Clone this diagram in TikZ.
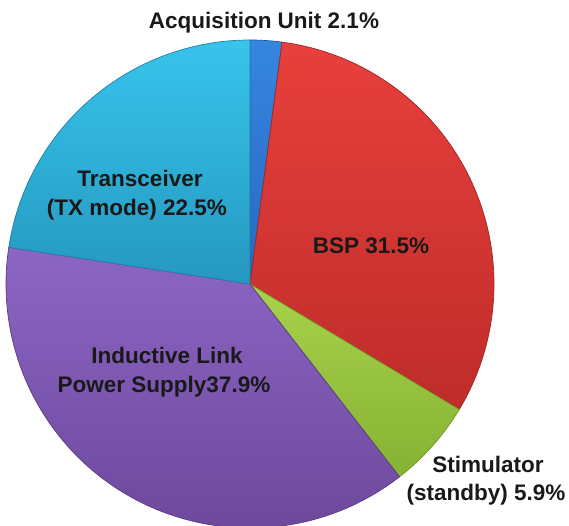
\documentclass[tikz,border=0pt]{standalone}
\usepackage{fontspec}
\setmainfont{Liberation Sans}
\begin{document}
\begin{tikzpicture}[x=1pt,y=1pt,
  lbl/.style={anchor=base,inner sep=0pt,font=\bfseries\fontsize{22.5}{29}\selectfont,text=black!90},
  slice/.style={line width=0.7pt}]
\useasboundingbox (0,0) rectangle (569,525);
\definecolor{cyanT}{HTML}{38C4EC}\definecolor{cyanB}{HTML}{2598C0}
\definecolor{redT}{HTML}{E8403C}\definecolor{redB}{HTML}{BE2C2A}
\definecolor{purT}{HTML}{8C66C4}\definecolor{purB}{HTML}{6A4598}
\definecolor{grnT}{HTML}{A8D24A}\definecolor{grnB}{HTML}{86B234}
\definecolor{bluT}{HTML}{3586E0}\definecolor{bluB}{HTML}{2868C0}
\coordinate (c) at (250,241);
\def\R{244}
% Acquisition Unit
\path[slice,top color=bluT,bottom color=bluB,draw=bluB!80!black] (c) -- ++(90:\R) arc[start angle=90,end angle=82.44,radius=\R] -- cycle;
% BSP
\path[slice,top color=redT,bottom color=redB,draw=redB!85!black] (c) -- ++(82.44:\R) arc[start angle=82.44,end angle=-30.96,radius=\R] -- cycle;
% Stimulator
\path[slice,top color=grnT,bottom color=grnB,draw=grnB!85!black] (c) -- ++(-30.96:\R) arc[start angle=-30.96,end angle=-52.2,radius=\R] -- cycle;
% Inductive link
\path[slice,top color=purT,bottom color=purB,draw=purB!85!black] (c) -- ++(-52.2:\R) arc[start angle=-52.2,end angle=-188.64,radius=\R] -- cycle;
% Transceiver
\path[slice,top color=cyanT,bottom color=cyanB,draw=cyanB!85!black] (c) -- ++(171.36:\R) arc[start angle=171.36,end angle=90,radius=\R] -- cycle;
% labels
\node[lbl] (acq) at (264,496) {Acquisition Unit 2.1\%};
\node[lbl] (trans1) at (140,338) {Transceiver};
\node[lbl] (trans2) at (137,309) {(TX mode) 22.5\%};
\node[lbl] (bsp) at (371,271) {BSP 31.5\%};
\node[lbl] (ind1) at (167,162) {Inductive Link};
\node[lbl] (ind2) at (164,133) {Power Supply37.9\%};
\node[lbl] (stim1) at (488,53) {Stimulator};
\node[lbl] (stim2) at (486,25) {(standby) 5.9\%};
\end{tikzpicture}
\end{document}
